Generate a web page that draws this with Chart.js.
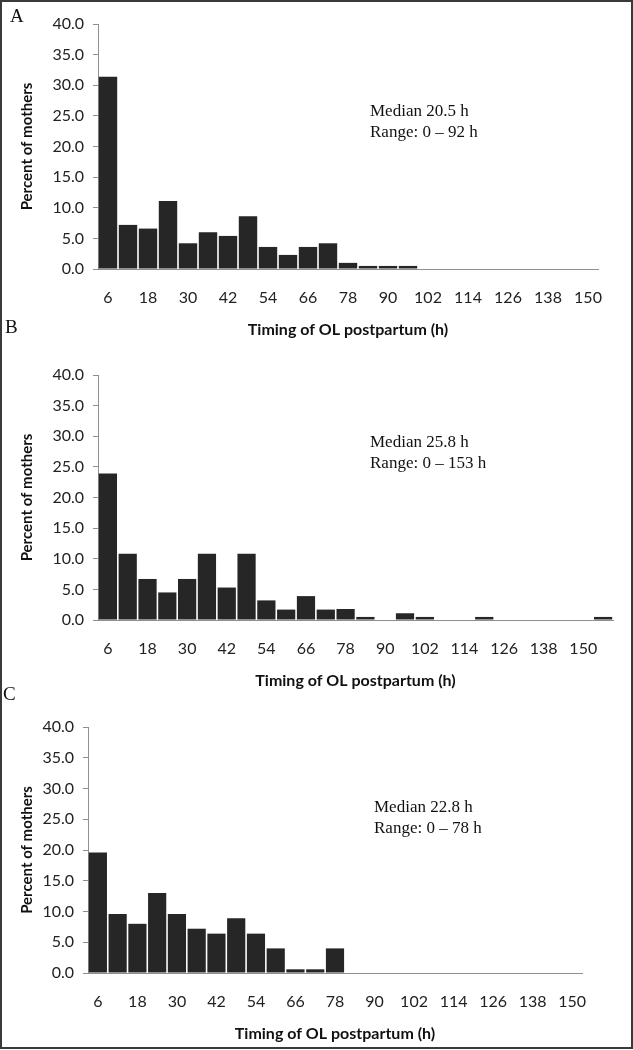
<!DOCTYPE html>
<html>
<head>
<meta charset="utf-8">
<script src="https://cdn.jsdelivr.net/npm/chart.js@4"></script>
<style>
  body { margin: 0; background: #fff; }
  #frame { position: absolute; left: 0; top: 0; width: 633px; height: 1049px; box-sizing: border-box; border: 2px solid #3a3a3a; }
  .panel { position: absolute; left: 0; width: 633px; }
  .letter { position: absolute; font-family: "Liberation Serif", serif; font-size: 19px; line-height: 19px; color: #111; }
  .note { position: absolute; font-family: "Liberation Serif", serif; font-size: 17px; line-height: 21px; color: #111; }
</style>
</head>
<body>
<div id="frame"></div>
<div class="panel" style="top:0px"><canvas id="chart_A" width="633" height="345"></canvas></div>
<div class="panel" style="top:350px"><canvas id="chart_B" width="633" height="346"></canvas></div>
<div class="panel" style="top:703px"><canvas id="chart_C" width="633" height="346"></canvas></div>

<div class="letter" style="left:10px; top:6px">A</div>
<div class="letter" style="left:5px; top:317px">B</div>
<div class="letter" style="left:3px; top:684px">C</div>

<div class="note" style="left:370px; top:100px">Median 20.5 h<br>Range: 0 – 92 h</div>
<div class="note" style="left:370px; top:431px">Median 25.8 h<br>Range: 0 – 153 h</div>
<div class="note" style="left:374px; top:796px">Median 22.8 h<br>Range: 0 – 78 h</div>

<script>
// hour bins (h)
const hours25 = [6, 12, 18, 24, 30, 36, 42, 48, 54, 60, 66, 72, 78, 84, 90, 96, 102, 108, 114, 120, 126, 132, 138, 144, 150];
const hours26 = [6, 12, 18, 24, 30, 36, 42, 48, 54, 60, 66, 72, 78, 84, 90, 96, 102, 108, 114, 120, 126, 132, 138, 144, 150, 156];

// percent of mothers per bin
const pctA = [31.4, 7.2, 6.6, 11.1, 4.2, 6.0, 5.4, 8.6, 3.6, 2.3, 3.6, 4.2, 1.0, 0.5, 0.5, 0.5, 0, 0, 0, 0, 0, 0, 0, 0, 0];
const pctB = [23.9, 10.8, 6.7, 4.5, 6.7, 10.8, 5.3, 10.8, 3.2, 1.7, 3.9, 1.7, 1.8, 0.5, 0, 1.1, 0.5, 0, 0, 0.5, 0, 0, 0, 0, 0, 0.5];
const pctC = [19.6, 9.6, 8.0, 13.0, 9.6, 7.2, 6.4, 8.9, 6.4, 4.0, 0.6, 0.6, 4.0, 0, 0, 0, 0, 0, 0, 0, 0, 0, 0, 0, 0];

const yTicks = [0, 5, 10, 15, 20, 25, 30, 35, 40];

const axisGray = "#8f8f8f";
const tickFont = { family: "Lato", size: 16 };

function makePanel(id, labels, values, leftW, rightPad, topPad) {
  new Chart(document.getElementById(id), {
    type: "bar",
    data: {
      labels: labels,
      datasets: [{
        data: values,
        backgroundColor: "#262626",
        barPercentage: 0.92,
        categoryPercentage: 1.0,
      }],
    },
    options: {
      responsive: false,
      animation: false,
      layout: { padding: { top: topPad, right: rightPad, left: 0, bottom: 0 } },
      plugins: { legend: { display: false }, tooltip: { enabled: false } },
      scales: {
        x: {
          grid: { display: false, drawTicks: false },
          border: { color: axisGray, width: 1 },
          ticks: {
            autoSkip: false,
            maxRotation: 0,
            padding: 19,
            color: "#222",
            font: tickFont,
            callback: function (v, i) { return i % 2 === 0 ? this.getLabelForValue(v) : ""; },
          },
          title: { display: true, text: "Timing of OL postpartum (h)", color: "#111", font: { family: "Lato", size: 16, weight: "bold" }, padding: { top: 0, bottom: 6 } },
          afterFit: (s) => { s.height = 76; },
        },
        y: {
          min: 0,
          max: 40,
          afterBuildTicks: (s) => { s.ticks = yTicks.map((v) => ({ value: v })); },
          grid: { drawOnChartArea: false, tickLength: 5, color: axisGray },
          border: { color: axisGray, width: 1 },
          ticks: { padding: 9, color: "#222", font: tickFont, callback: (v) => v.toFixed(1) },
          title: { display: true, text: "Percent of mothers", color: "#111", font: { family: "Lato", size: 15, weight: "bold" }, padding: { top: 18, bottom: 0 } },
          afterFit: (s) => { s.width = leftW; },
        },
      },
    },
  });
}

makePanel("chart_A", hours25, pctA, 98, 35, 24);
makePanel("chart_B", hours26, pctB, 98, 20, 25);
makePanel("chart_C", hours25, pctC, 88, 51, 24);
</script>
</body>
</html>
